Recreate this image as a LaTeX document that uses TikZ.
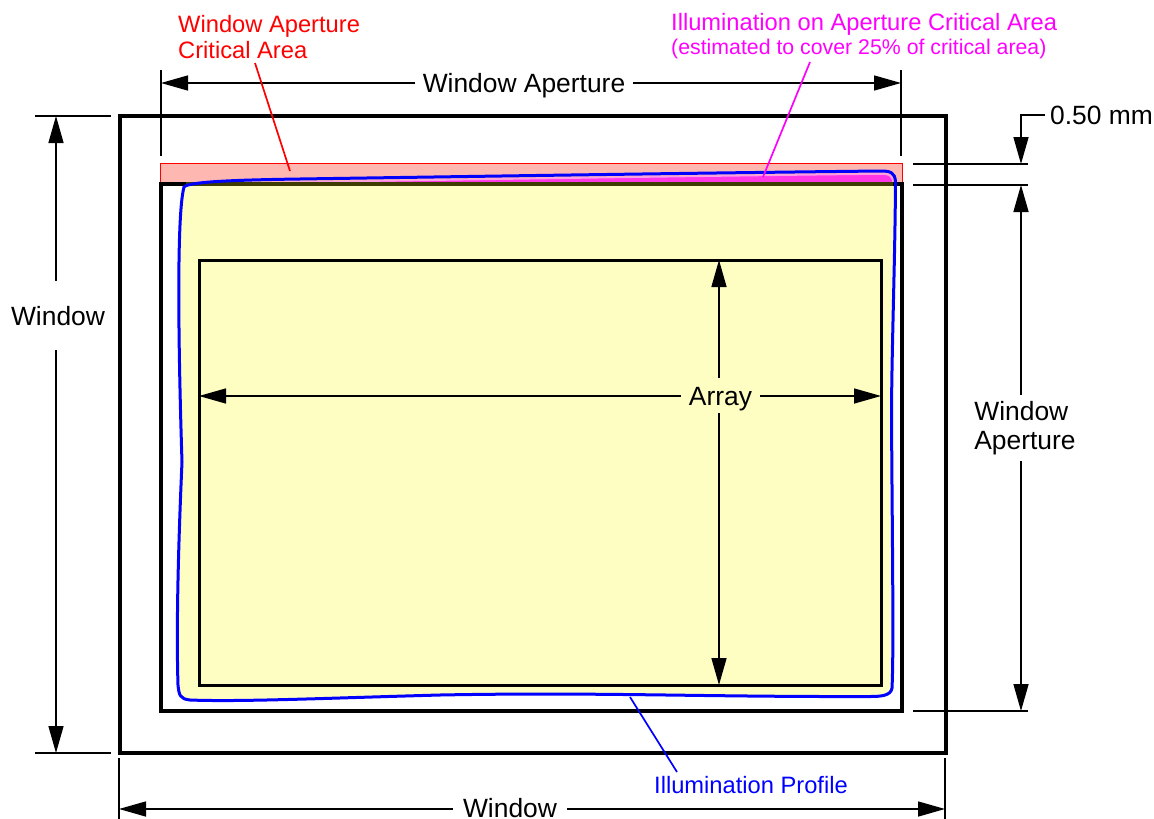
\documentclass[tikz,border=0pt]{standalone}
\usepackage{fontspec}
\setmainfont{Liberation Sans}
\usepackage{xcolor}
\usetikzlibrary{arrows.meta}
\definecolor{profilefill}{HTML}{FFFEC2}
\definecolor{criticalfill}{HTML}{FFB7B2}
\definecolor{illumfill}{HTML}{FF35E6}
\definecolor{illumedge}{HTML}{FF9CE8}
\definecolor{illumline}{HTML}{FF00FF}
\definecolor{darkedge}{HTML}{3F3C00}
\tikzset{
  dimtext/.style={font=\fontsize{26.4}{29}\selectfont,inner sep=8pt,text height=19pt,text depth=0pt},
  labeltext/.style={font=\fontsize{23.7}{26.6}\selectfont,inner sep=0pt},
  smalltext/.style={font=\fontsize{21.3}{24}\selectfont,inner sep=0pt},
  dimline/.style={line width=1.5pt,-{Triangle[length=27pt,width=15pt]}},
  extline/.style={line width=1.5pt},
  leader/.style={line width=1.7pt},
  outline/.style={draw,inner sep=0pt,outer sep=0pt},
}

\begin{document}
\begin{tikzpicture}[x=1pt,y=-1pt]
\useasboundingbox (0,0) rectangle (1154,819);

% profile and critical area
\draw[fill=profilefill,draw=none] (182,462) .. controls (180,400) and (175,220) .. (186,184)
  -- (893,184) -- (895,190) .. controls (895,260) and (892,340) .. (891.5,410)
  .. controls (892,520) and (894,650) .. (892,688) .. controls (891,696) and (880,696.5) .. (870,696.5)
  .. controls (700,697) and (600,692) .. (440,695) .. controls (330,698) and (240,702) .. (190,700)
  .. controls (180,699) and (179,695) .. (178,685) .. controls (176,620) and (179,530) .. (182,462) -- cycle;
\draw[red,line width=1pt,fill=criticalfill] (160,163) rectangle (902,184);
\draw[illumedge,line width=1.5pt,fill=illumfill] (245,183) .. controls (450,180) and (700,176) .. (880,174)
  .. controls (890,174) and (893,176) .. (893,184) -- cycle;

% boxes
\node[outline,line width=3.8pt,minimum width=826pt,minimum height=637pt] (window) at (533,434.5) {};
\node[outline,line width=3.3pt,minimum width=741pt,minimum height=527pt] (aperture) at (531.5,447.5) {};
\node[outline,line width=3pt,minimum width=682pt,minimum height=425pt] (array) at (540,472.5) {};
\draw[darkedge,line width=3.3pt] (186,184) -- (893,184);

% blue outline
\draw[blue,line width=3pt] (182,462) .. controls (180,400) and (175,220) .. (184,187)
  .. controls (188,182) and (230,180) .. (300,179) .. controls (500,176) and (700,173) .. (880,171)
  .. controls (890,171) and (895,172) .. (895.5,182) .. controls (895,260) and (892,340) .. (891.5,410)
  .. controls (892,520) and (894,650) .. (892,688) .. controls (891,696) and (880,696.5) .. (870,696.5)
  .. controls (700,697) and (600,692) .. (440,695) .. controls (330,698) and (240,702) .. (190,700)
  .. controls (180,699) and (179,695) .. (178,685) .. controls (176,620) and (179,530) .. (182,462) -- cycle;

% ends of the dimension lines
\coordinate (apleft) at (161,83);
\coordinate (apright) at (901,83);
\coordinate (wintop) at (56,116);
\coordinate (winbot) at (56,753);
\coordinate (winleft) at (119,809);
\coordinate (winright) at (945,809);
\coordinate (aptop) at (1021,185);
\coordinate (apbot) at (1021,711);
\coordinate (arrleft) at (199,396);
\coordinate (arrright) at (881,396);
\coordinate (arrtop) at (719,260);
\coordinate (arrbot) at (719,685);
\coordinate (gaptop) at (1021,164);
\coordinate (gapbend) at (1021,115);
\coordinate (gapstart) at (1045,115);

% labels
\node[dimtext] (lblaph) at (524,83) {Window Aperture};
\node[dimtext,inner ysep=25pt] (lblwinv) at (58,315.5) {Window};
\node[dimtext,inner xsep=10pt,inner ysep=0pt] (lblwinh) at (510,807.5) {Window};
\node[font=\fontsize{26.4}{29}\selectfont,inner xsep=0pt,inner ysep=6pt,align=left] (lblapv) at (1025,428) {Window\\Aperture};
\node[dimtext] (lblarray) at (720.5,395.5) {Array};
\node[dimtext,anchor=west,inner xsep=0pt] (lblgap) at (1050,115) {0.50 mm};
\node[labeltext,text=red,anchor=north west,align=left] (lblcritical) at (178,15) {Window Aperture\\Critical Area};
\node[labeltext,text=illumline,anchor=west] (lblillum) at (671,24) {Illumination on Aperture Critical Area};
\node[smalltext,text=illumline,anchor=west] (lblcover) at (671,49) {(estimated to cover 25\% of critical area)};
\node[labeltext,text=blue] (lblprofile) at (751,785) {Illumination Profile};

% dimension lines
\draw[dimline] (lblaph) -- (apleft);
\draw[dimline] (lblaph) -- (apright);
\draw[dimline] (lblwinv.north -| wintop) -- (wintop);
\draw[dimline] (lblwinv.south -| winbot) -- (winbot);
\draw[dimline] (lblwinh.west |- winleft) -- (winleft);
\draw[dimline] (lblwinh.east |- winright) -- (winright);
\draw[dimline] (lblapv.north -| aptop) -- (aptop);
\draw[dimline] (lblapv.south -| apbot) -- (apbot);
\draw[dimline] (lblarray.west |- arrleft) -- (arrleft);
\draw[dimline] (lblarray.east |- arrright) -- (arrright);
\draw[dimline] (lblarray.north -| arrtop) -- (arrtop);
\draw[dimline] (lblarray.south -| arrbot) -- (arrbot);
\draw[dimline] (gapstart) -- (gapbend) -- (gaptop);

% extension lines
\draw[extline] (161,70) -- (161,156);
\draw[extline] (901,70) -- (901,156);
\draw[extline] (35,116) -- (111,116);
\draw[extline] (35,753) -- (111,753);
\draw[extline] (119,758) -- (119,819);
\draw[extline] (945,758) -- (945,819);
\draw[extline] (913,164) -- (1028,164);
\draw[extline] (913,185) -- (1028,185);
\draw[extline] (913,711) -- (1028,711);

% leaders
\coordinate (criticalend) at (290,171);
\coordinate (criticalstart) at (255,63);
\coordinate (illumend) at (763,177);
\coordinate (illumstart) at (810,62);
\coordinate (profileend) at (630,697);
\coordinate (profilestart) at (677,772);
\draw[leader,red] (criticalstart) -- (criticalend);
\draw[leader,illumline] (illumstart) -- (illumend);
\draw[leader,blue] (profilestart) -- (profileend);
\end{tikzpicture}
\end{document}
